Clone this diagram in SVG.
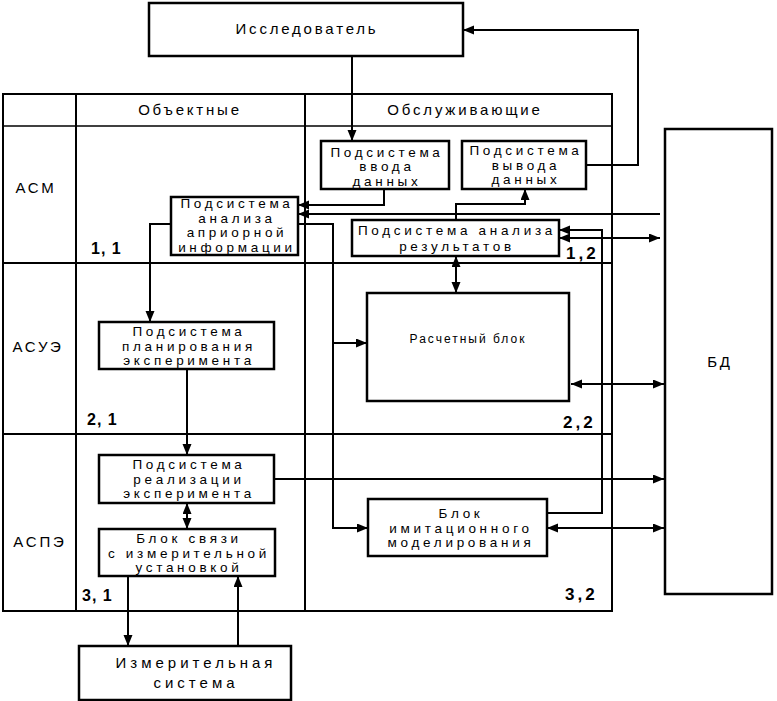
<svg xmlns="http://www.w3.org/2000/svg" width="777" height="701" viewBox="0 0 777 701">
<style>
  .bg{fill:#ffffff}
  .box{fill:#ffffff;stroke:#000;stroke-width:2.5}
  .grid{fill:none;stroke:#000;stroke-width:2}
  .thin{fill:none;stroke:#000;stroke-width:1.6}
  .con{fill:none;stroke:#000;stroke-width:2}
  .ar{marker-end:url(#ah)}
  .dbl{marker-start:url(#ah);marker-end:url(#ah)}
  text{font-family:"Liberation Sans",Arial,sans-serif;fill:#000}
  .t{font-size:13.5px;letter-spacing:3.7px;text-anchor:middle}
  .h{font-size:15px;letter-spacing:2.8px;text-anchor:middle}
  .ts{font-size:12px;letter-spacing:2px;text-anchor:middle}
  .tm{font-size:15px;letter-spacing:4px;text-anchor:middle}
  .num{font-size:16px;font-weight:bold;letter-spacing:1px}
  .num2{font-size:17px;font-weight:bold;letter-spacing:3px}
</style>
<defs>
  <marker id="ah" markerUnits="userSpaceOnUse" markerWidth="12" markerHeight="10" refX="11" refY="4.5" orient="auto-start-reverse">
    <path d="M0,0 L11,4.5 L0,9 z" fill="#000"/>
  </marker>
</defs>
<rect class="bg" x="0" y="0" width="777" height="701"/>

<g id="table">
  <rect class="grid" x="3" y="94" width="609" height="517"/>
  <line class="grid" x1="76" y1="94" x2="76" y2="611"/>
  <line class="grid" x1="305" y1="94" x2="305" y2="611"/>
  <line class="thin" x1="3" y1="126" x2="612" y2="126"/>
  <line class="grid" x1="3" y1="263" x2="612" y2="263"/>
  <line class="grid" x1="3" y1="434" x2="612" y2="434"/>
  <text class="h" x="190" y="115">Объектные</text>
  <text class="h" x="465" y="115">Обслуживающие</text>
  <text class="h" x="36" y="193">АСМ</text>
  <text class="h" x="38" y="352">АСУЭ</text>
  <text class="h" x="40" y="547">АСПЭ</text>
  <text class="num" x="91" y="254">1, 1</text>
  <text class="num2" x="566" y="259">1,2</text>
  <text class="num" x="87" y="425">2, 1</text>
  <text class="num2" x="563" y="428">2,2</text>
  <text class="num" x="82" y="601">3, 1</text>
  <text class="num2" x="565" y="600">3,2</text>
</g>

<g id="connectors">
  <path class="con ar" d="M352,56 V141"/>
  <path class="con ar" d="M586,165 H638 V30 H463"/>
  <path class="con ar" d="M384,189 V205 H298"/>
  <path class="con ar" d="M660,214 H298"/>
  <path class="con ar" d="M456,220 V204 H525 V189"/>
  <path class="con ar" d="M171,224 H150 V322"/>
  <path class="con ar" d="M298,224 H333 V528 H368"/>
  <path class="con ar" d="M333,343 H367"/>
  <path class="con dbl" d="M456,256 V293"/>
  <path class="con ar" d="M547,513 H602 V230 H559"/>
  <path class="con dbl" d="M559,238 H660"/>
  <path class="con dbl" d="M571,384 H664"/>
  <path class="con ar" d="M274,479 H664"/>
  <path class="con dbl" d="M547,528 H664"/>
  <path class="con ar" d="M187,369 V455"/>
  <path class="con dbl" d="M187,503 V529"/>
  <path class="con ar" d="M128,576 V646"/>
  <path class="con ar" d="M238,646 V576"/>
</g>

<g id="researcher">
  <rect class="box" x="149" y="3" width="314" height="53"/>
  <text class="h" x="307" y="34">Исследователь</text>
</g>
<g id="input">
  <rect class="box" x="321" y="141" width="128" height="48"/>
  <text class="t" x="387" y="156.5">Подсистема</text>
  <text class="t" x="387" y="171">ввода</text>
  <text class="t" x="387" y="185.5">данных</text>
</g>
<g id="output">
  <rect class="box" x="462" y="141" width="124" height="48"/>
  <text class="t" x="526" y="155">Подсистема</text>
  <text class="t" x="526" y="169.5">вывода</text>
  <text class="t" x="526" y="184">данных</text>
</g>
<g id="apriori">
  <rect class="box" x="171" y="197" width="127" height="58"/>
  <text class="t" x="237" y="208">Подсистема</text>
  <text class="t" x="237" y="222.5">анализа</text>
  <text class="t" x="237" y="237">априорной</text>
  <text class="t" x="237" y="251.5">информации</text>
</g>
<g id="results">
  <rect class="box" x="352" y="220" width="207" height="36"/>
  <text class="t" x="457" y="235">Подсистема анализа</text>
  <text class="t" x="457" y="250.5">результатов</text>
</g>
<g id="calc">
  <rect class="box" x="367" y="293" width="202" height="108"/>
  <text class="ts" x="468" y="343">Расчетный блок</text>
</g>
<g id="db">
  <rect class="box" x="665" y="129" width="107" height="465"/>
  <text class="h" x="720" y="367">БД</text>
</g>
<g id="planning">
  <rect class="box" x="99" y="322" width="175" height="47"/>
  <text class="t" x="189" y="336">Подсистема</text>
  <text class="t" x="189" y="350.5">планирования</text>
  <text class="t" x="189" y="365">эксперимента</text>
</g>
<g id="realization">
  <rect class="box" x="99" y="455" width="175" height="48"/>
  <text class="t" x="189" y="469">Подсистема</text>
  <text class="t" x="189" y="483.5">реализации</text>
  <text class="t" x="189" y="498">эксперимента</text>
</g>
<g id="link">
  <rect class="box" x="99" y="529" width="176" height="47"/>
  <text class="t" x="189" y="543">Блок связи</text>
  <text class="t" x="189" y="557.5">с измерительной</text>
  <text class="t" x="189" y="572">установкой</text>
</g>
<g id="imitation">
  <rect class="box" x="368" y="499" width="179" height="57"/>
  <text class="t" x="461" y="518">Блок</text>
  <text class="t" x="461" y="532.5">имитационного</text>
  <text class="t" x="461" y="547">моделирования</text>
</g>
<g id="measure">
  <rect class="box" x="79" y="646" width="212" height="54"/>
  <text class="tm" x="196" y="668">Измерительная</text>
  <text class="tm" x="196" y="688">система</text>
</g>
</svg>
